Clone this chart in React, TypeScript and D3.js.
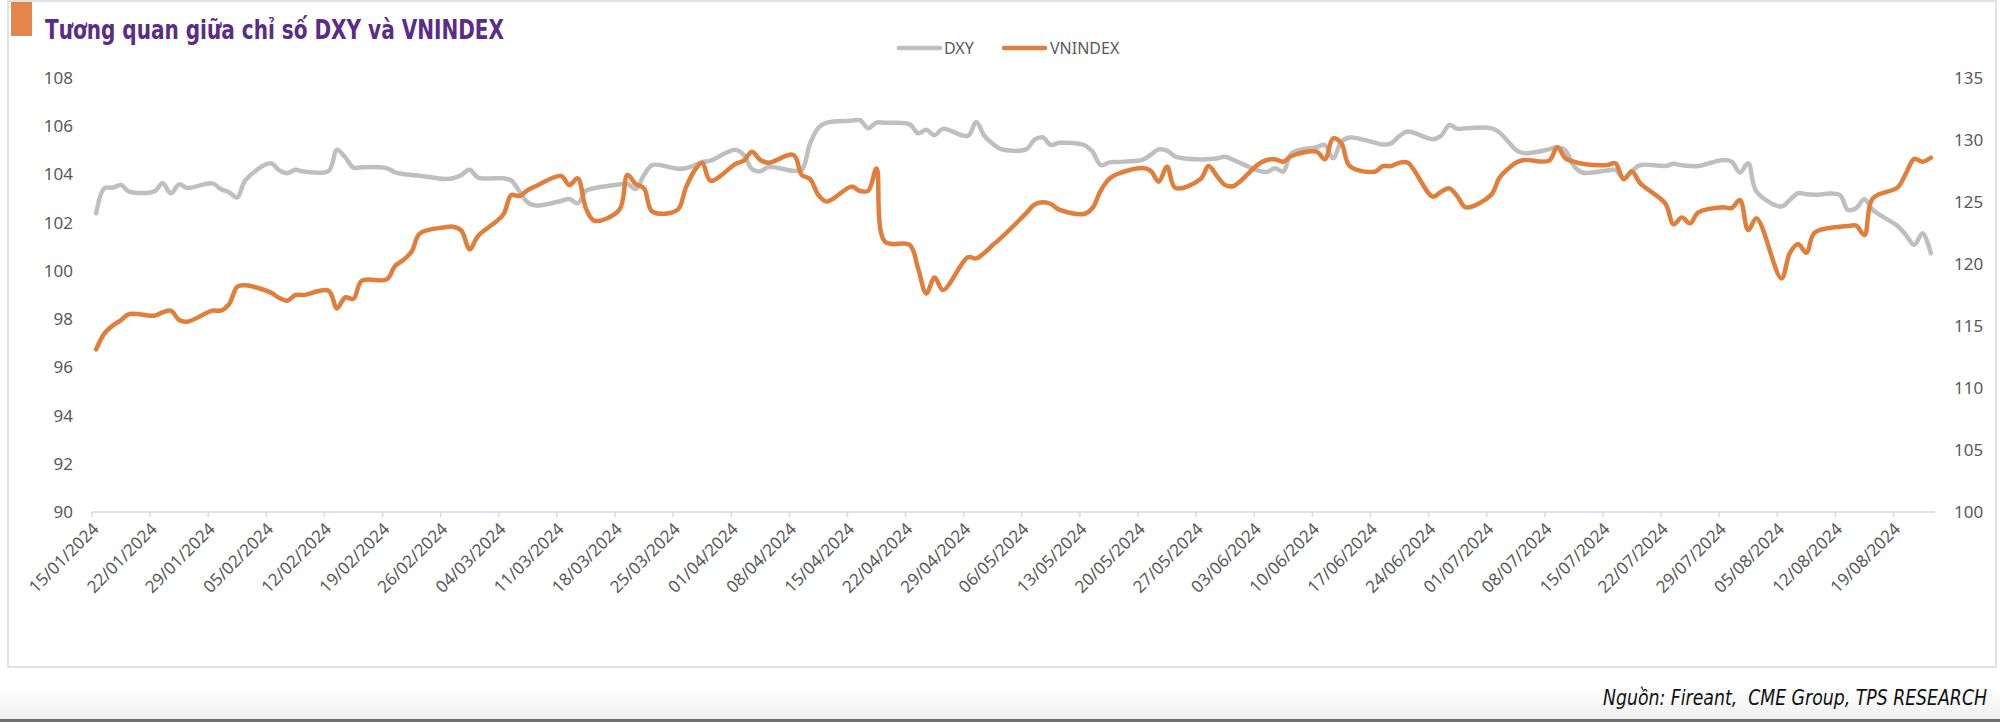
import React from "react";
import * as d3 from "d3";

const dates: string[] = [
  "2024-01-15","2024-01-16","2024-01-17","2024-01-18","2024-01-19",
  "2024-01-22","2024-01-23","2024-01-24","2024-01-25","2024-01-26",
  "2024-01-29","2024-01-30","2024-01-31","2024-02-01","2024-02-02",
  "2024-02-05","2024-02-06","2024-02-07","2024-02-08","2024-02-09",
  "2024-02-12","2024-02-13","2024-02-14","2024-02-15","2024-02-16",
  "2024-02-19","2024-02-20","2024-02-21","2024-02-22","2024-02-23",
  "2024-02-26","2024-02-27","2024-02-28","2024-02-29","2024-03-01",
  "2024-03-04","2024-03-05","2024-03-06","2024-03-07","2024-03-08",
  "2024-03-11","2024-03-12","2024-03-13","2024-03-14","2024-03-15",
  "2024-03-18","2024-03-19","2024-03-20","2024-03-21","2024-03-22",
  "2024-03-25","2024-03-26","2024-03-27","2024-03-28","2024-03-29",
  "2024-04-01","2024-04-02","2024-04-03","2024-04-04","2024-04-05",
  "2024-04-08","2024-04-09","2024-04-10","2024-04-11","2024-04-12",
  "2024-04-15","2024-04-16","2024-04-17","2024-04-18","2024-04-19",
  "2024-04-22","2024-04-23","2024-04-24","2024-04-25","2024-04-26",
  "2024-04-29","2024-04-30","2024-05-01","2024-05-02","2024-05-03",
  "2024-05-06","2024-05-07","2024-05-08","2024-05-09","2024-05-10",
  "2024-05-13","2024-05-14","2024-05-15","2024-05-16","2024-05-17",
  "2024-05-20","2024-05-21","2024-05-22","2024-05-23","2024-05-24",
  "2024-05-27","2024-05-28","2024-05-29","2024-05-30","2024-05-31",
  "2024-06-03","2024-06-04","2024-06-05","2024-06-06","2024-06-07",
  "2024-06-10","2024-06-11","2024-06-12","2024-06-13","2024-06-14",
  "2024-06-17","2024-06-18","2024-06-19","2024-06-20","2024-06-21",
  "2024-06-24","2024-06-25","2024-06-26","2024-06-27","2024-06-28",
  "2024-07-01","2024-07-02","2024-07-03","2024-07-04","2024-07-05",
  "2024-07-08","2024-07-09","2024-07-10","2024-07-11","2024-07-12",
  "2024-07-15","2024-07-16","2024-07-17","2024-07-18","2024-07-19",
  "2024-07-22","2024-07-23","2024-07-24","2024-07-25","2024-07-26",
  "2024-07-29","2024-07-30","2024-07-31","2024-08-01","2024-08-02",
  "2024-08-05","2024-08-06","2024-08-07","2024-08-08","2024-08-09",
  "2024-08-12","2024-08-13","2024-08-14","2024-08-15","2024-08-16",
  "2024-08-19","2024-08-20","2024-08-21","2024-08-22","2024-08-23",
];

const dxy: number[] = [
  102.39,103.43,103.45,103.56,103.29,
  103.30,103.63,103.22,103.59,103.44,
  103.63,103.40,103.26,103.05,103.77,
  104.46,104.19,104.05,104.19,104.12,
  104.15,105.02,104.71,104.28,104.30,
  104.26,104.09,104.02,103.98,103.95,
  103.81,103.84,103.98,104.19,103.87,
  103.84,103.75,103.29,102.83,102.71,
  102.90,102.98,102.80,103.33,103.43,
  103.58,103.61,103.40,103.98,104.39,
  104.24,104.26,104.37,104.51,104.57,
  105.02,104.81,104.22,104.13,104.31,
  104.15,104.19,105.29,105.94,106.15,
  106.23,106.25,105.92,106.15,106.14,
  106.08,105.71,105.85,105.63,105.89,
  105.60,106.18,105.60,105.27,105.05,
  105.04,105.43,105.54,105.22,105.31,
  105.22,104.95,104.39,104.49,104.52,
  104.60,104.81,105.04,104.99,104.74,
  104.62,104.64,104.66,104.73,104.60,
  104.16,104.10,104.26,104.12,104.88,
  105.13,105.22,104.67,105.36,105.53,
  105.32,105.24,105.29,105.60,105.78,
  105.46,105.60,106.05,105.89,105.92,
  105.92,105.75,105.40,105.02,104.88,
  105.04,105.13,104.99,104.35,104.08,
  104.16,104.19,103.84,104.15,104.39,
  104.35,104.44,104.38,104.35,104.35,
  104.60,104.53,104.08,104.46,103.29,
  102.67,102.94,103.22,103.18,103.16,
  103.15,102.53,102.60,102.97,102.53,
  101.86,101.49,101.08,101.56,100.73,
];

const vnindex: number[] = [
  113.12,114.41,115.03,115.48,115.97,
  115.83,116.10,116.24,115.48,115.35,
  116.24,116.24,116.75,118.17,118.28,
  117.71,117.28,117.04,117.50,117.50,
  117.85,116.42,117.31,117.20,118.65,
  118.76,119.84,120.32,121.00,122.47,
  122.96,123.01,122.69,121.18,122.26,
  123.95,125.56,125.48,125.97,126.29,
  127.10,126.37,126.91,124.49,123.49,
  124.35,127.18,126.45,126.10,124.22,
  124.35,126.10,127.45,128.17,126.72,
  128.06,128.33,129.06,128.39,128.17,
  128.79,127.18,126.85,125.56,125.03,
  126.24,125.89,125.91,127.71,121.80,
  121.53,119.65,117.63,118.92,117.90,
  120.54,120.45,120.90,121.53,122.10,
  124.08,124.78,124.97,124.84,124.38,
  124.03,124.49,125.91,126.85,127.26,
  127.74,127.53,126.64,127.85,126.13,
  126.83,127.90,127.10,126.37,126.29,
  128.06,128.39,128.44,128.25,128.71,
  129.06,128.44,130.13,129.73,127.90,
  127.44,127.90,127.90,128.17,128.17,
  125.43,125.83,126.10,125.43,124.57,
  125.56,126.91,127.63,128.17,128.39,
  128.33,129.41,128.52,128.25,128.09,
  127.98,128.12,126.83,127.45,126.50,
  124.89,123.20,123.76,123.28,124.16,
  124.57,124.51,125.16,122.74,123.68,
  118.84,120.86,121.61,120.91,122.53,
  123.01,123.06,123.09,122.34,125.29,
  126.18,127.31,128.47,128.25,128.57,
];

const leftTicks: number[] = [90, 92, 94, 96, 98, 100, 102, 104, 106, 108];
const rightTicks: number[] = [100, 105, 110, 115, 120, 125, 130, 135];
const seriesNames: string[] = ["DXY", "VNINDEX"];
const seriesColors: string[] = ["#BFBFBF", "#E07E3C"];
const titleText = "Tương quan giữa chỉ số DXY và VNINDEX";
const sourceText = "Nguồn: Fireant,  CME Group, TPS RESEARCH";
const axisStart = "2024-01-15";
const axisEnd = "2024-08-24";

const W = 2000;
const H = 722;
const plotLeft = 92;
const plotRight = 1935;
const plotTop = 78;
const plotBottom = 512;

export default function App() {
  const parse = (s: string) => new Date(s + "T00:00:00Z");
  const x = d3
    .scaleUtc()
    .domain([parse(axisStart), parse(axisEnd)])
    .range([plotLeft, plotRight]);
  const yL = d3.scaleLinear().domain([90, 108]).range([plotBottom, plotTop]);
  const yR = d3.scaleLinear().domain([100, 135]).range([plotBottom, plotTop]);

  const mid = (s: string) => new Date(parse(s).getTime() + 12 * 3600 * 1000);

  const lineL = d3
    .line<number>()
    .x((_, i) => x(mid(dates[i])))
    .y((v) => yL(v))
    .curve(d3.curveCatmullRom.alpha(0.5));
  const lineR = d3
    .line<number>()
    .x((_, i) => x(mid(dates[i])))
    .y((v) => yR(v))
    .curve(d3.curveCatmullRom.alpha(0.5));

  const ticks = d3.utcMonday.range(parse(axisStart), parse(axisEnd));
  const fmt = d3.utcFormat("%d/%m/%Y");
  const labelFont = "'Noto Sans', 'Open Sans', sans-serif";
  const labelColor = "#595959";

  return (
    <svg
      width={W}
      height={H}
      style={{ position: "absolute", left: 0, top: 0, background: "#fff" }}
    >
      <defs>
        <linearGradient id="foot" x1="0" y1="0" x2="0" y2="1">
          <stop offset="0" stopColor="#ffffff" />
          <stop offset="1" stopColor="#efefef" />
        </linearGradient>
      </defs>
      <rect x={0} y={0} width={W} height={H} fill="#fff" />
      <rect x={0} y={688} width={W} height={31} fill="url(#foot)" />
      <rect x={0} y={719} width={W} height={3} fill="#707070" />
      {/* chart box */}
      <rect
        x={8}
        y={1}
        width={1988}
        height={666}
        fill="#fff"
        stroke="#D9D9D9"
        strokeWidth={1.5}
      />
      {/* title */}
      <rect x={11} y={2} width={21} height={34} fill="#E4864A" />
      <text
        x={45}
        y={39}
        fill="#582C87"
        fontFamily="'Liberation Sans Narrow', 'DejaVu Sans Condensed', sans-serif"
        fontWeight={700}
        fontSize={26}
        textLength={459}
        lengthAdjust="spacingAndGlyphs"
      >
        {titleText}
      </text>

      {/* legend */}
      <g fontFamily={labelFont} fontSize={16} fill={labelColor}>
        <line x1={899} x2={940} y1={48} y2={48} stroke={seriesColors[0]} strokeWidth={4.5} strokeLinecap="round" />
        <text x={944} y={54}>{seriesNames[0]}</text>
        <line x1={1004} x2={1045} y1={48} y2={48} stroke={seriesColors[1]} strokeWidth={4.5} strokeLinecap="round" />
        <text x={1050} y={54}>{seriesNames[1]}</text>
      </g>

      {/* left axis labels */}
      <g fontFamily={labelFont} fontSize={17} fill={labelColor} textAnchor="end">
        {leftTicks.map((t) => (
          <text key={t} x={73} y={yL(t)} dy="0.35em">
            {t}
          </text>
        ))}
      </g>
      {/* right axis labels */}
      <g fontFamily={labelFont} fontSize={17} fill={labelColor} textAnchor="start">
        {rightTicks.map((t) => (
          <text key={t} x={1954} y={yR(t)} dy="0.35em">
            {t}
          </text>
        ))}
      </g>

      {/* x axis */}
      <line x1={plotLeft} x2={plotRight} y1={plotBottom} y2={plotBottom} stroke="#D9D9D9" strokeWidth={1.5} />
      {ticks.map((t) => (
        <line key={"t" + t.getTime()} x1={x(t)} x2={x(t)} y1={plotBottom} y2={plotBottom + 5} stroke="#D9D9D9" strokeWidth={1.5} />
      ))}
      <g fontFamily={labelFont} fontSize={17} fill={labelColor} textAnchor="end">
        {ticks.map((t) => (
          <text key={"l" + t.getTime()} transform={`translate(${x(t) + 8},${plotBottom + 18}) rotate(-45)`}>
            {fmt(t)}
          </text>
        ))}
      </g>

      {/* series */}
      <path d={lineL(dxy) || ""} fill="none" stroke={seriesColors[0]} strokeWidth={4.5} strokeLinejoin="round" strokeLinecap="round" />
      <path d={lineR(vnindex) || ""} fill="none" stroke={seriesColors[1]} strokeWidth={4.5} strokeLinejoin="round" strokeLinecap="round" />

      {/* source */}
      <text
        transform="translate(1987,705) scale(0.917,1)"
        textAnchor="end"
        fill="#111"
        fontStyle="italic"
        fontFamily="'Liberation Sans Narrow', 'DejaVu Sans Condensed', sans-serif"
        fontSize={21}
        style={{ whiteSpace: "pre" }}
      >
        {sourceText}
      </text>
    </svg>
  );
}
